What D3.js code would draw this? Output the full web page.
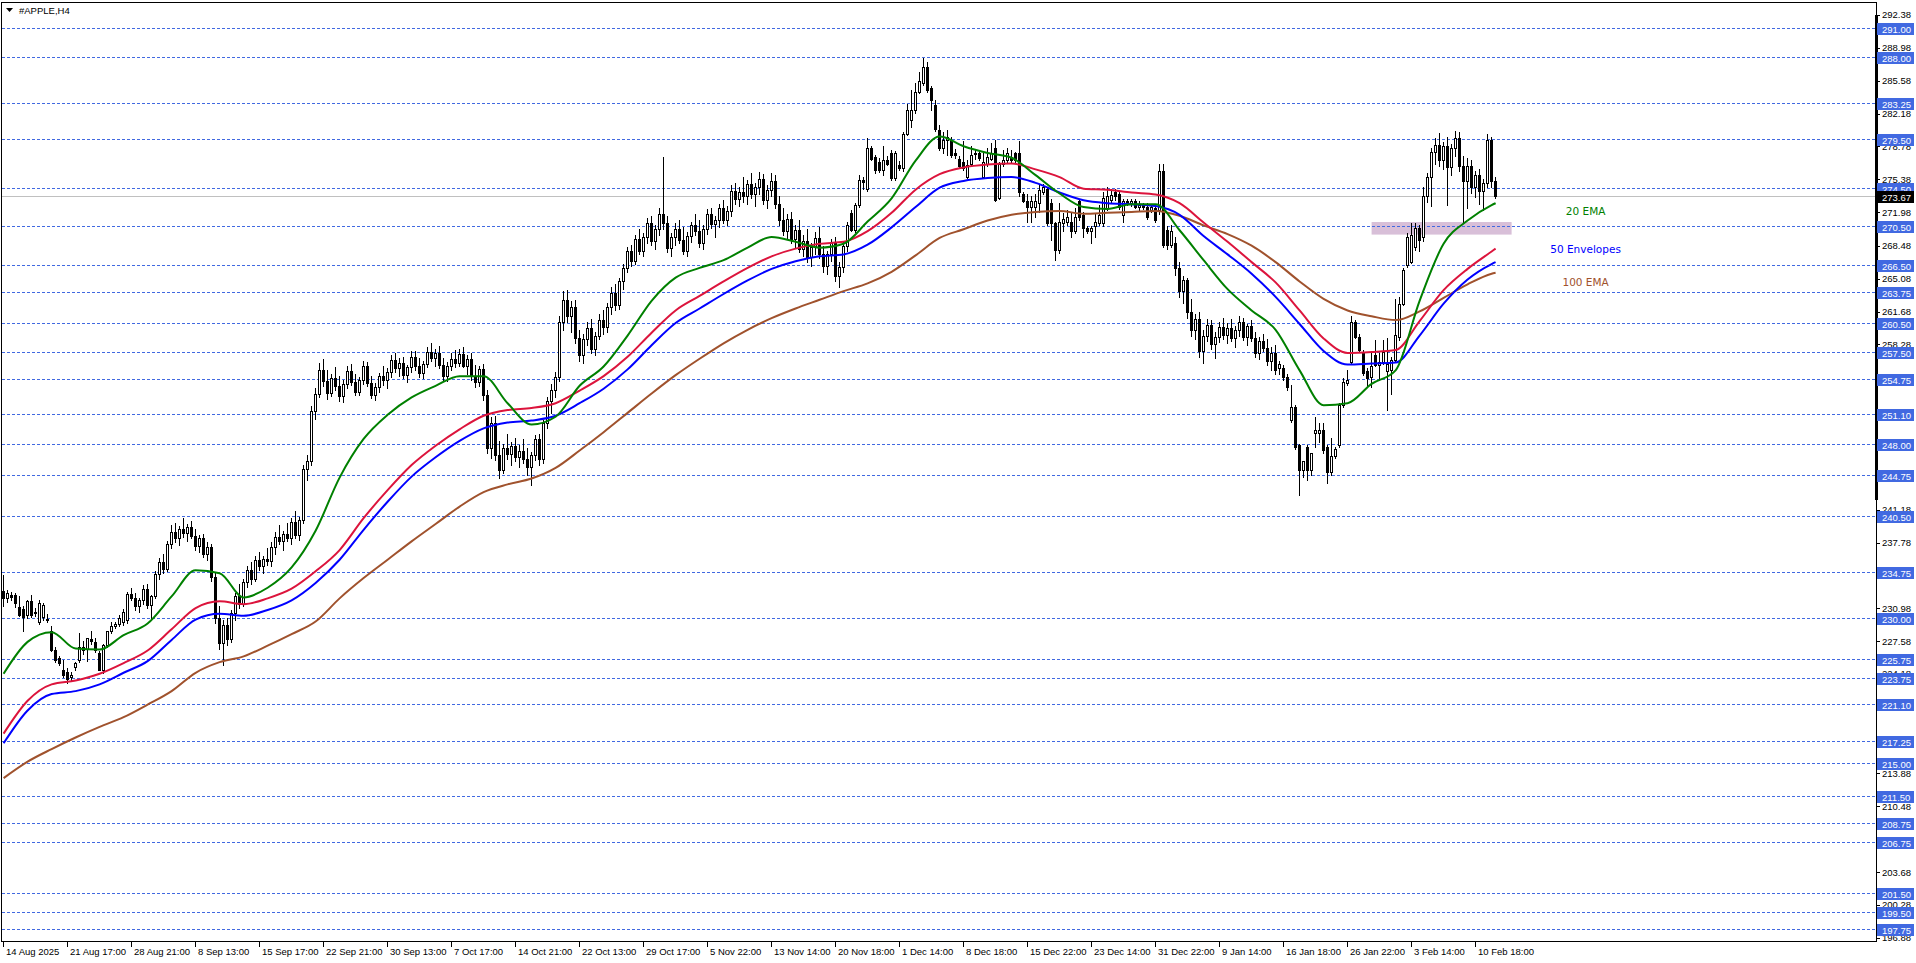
<!DOCTYPE html>
<html><head><meta charset="utf-8">
<script src="https://cdn.jsdelivr.net/npm/d3@7"></script>
<style>body{margin:0;background:#fff;overflow:hidden}svg{display:block}</style>
</head><body>
<svg id="chart" width="1916" height="963"></svg>
<script>
// ---------------- DATA ----------------
const title = "#APPLE,H4";
const openP = [
232.8,232.0,232.4,232.3,231.1,230.9,230.3,231.7,230.6,229.6,
230.1,229.9,228.6,226.7,225.8,224.6,224.4,223.9,224.9,225.6,
227.0,226.8,227.8,227.5,226.3,224.6,227.2,228.6,229.1,229.3,
229.6,229.8,232.5,232.0,231.2,231.8,233.0,231.3,232.2,234.5,
235.8,235.0,237.6,238.9,238.2,239.2,238.8,239.4,238.5,237.4,
238.2,236.6,237.3,234.2,230.0,227.4,229.2,227.8,230.5,232.2,
231.4,233.7,234.9,234.0,236.0,235.3,236.1,235.9,237.3,238.4,
237.9,238.7,238.2,239.9,238.6,240.1,245.4,246.2,251.4,253.2,
255.6,254.5,253.3,254.8,254.0,252.9,254.2,255.5,254.4,253.4,
254.6,256.0,254.3,253.0,253.9,255.0,254.6,255.4,256.7,255.8,
256.4,255.1,255.9,257.0,256.0,255.3,256.3,257.5,256.9,257.4,
256.2,255.0,256.1,256.8,256.4,257.3,256.1,256.8,255.0,254.4,
255.7,253.0,247.6,250.2,246.8,245.3,247.6,246.9,247.8,246.6,
247.3,246.4,245.6,246.8,248.5,246.4,250.1,252.4,253.6,254.9,
260.6,262.9,261.2,262.2,258.9,257.2,258.8,260.0,257.8,259.2,
260.8,260.1,262.2,263.6,262.4,264.8,266.2,267.9,266.9,269.2,
268.0,269.4,270.9,269.0,270.2,271.8,270.8,268.3,269.4,270.2,
269.1,268.0,269.5,270.6,270.0,268.8,270.2,271.8,270.7,271.2,
272.4,271.2,272.1,274.2,273.3,274.1,273.6,274.9,273.8,274.6,
275.4,273.2,274.3,275.2,272.8,271.2,270.0,271.3,269.2,270.1,
268.2,269.0,267.3,268.4,269.3,267.6,266.4,267.6,268.8,265.4,
266.3,268.5,271.9,270.1,272.7,275.3,274.4,278.6,277.7,277.2,
276.3,277.4,278.1,275.5,276.9,276.5,280.1,281.5,282.5,284.4,
285.3,287.0,284.8,283.1,280.5,278.6,279.4,279.4,278.1,277.5,
277.2,275.6,277.0,278.0,278.1,275.6,277.0,277.5,278.6,273.4,
277.0,277.4,277.7,278.1,278.1,273.9,273.1,272.5,272.5,272.9,
274.1,274.4,272.9,270.8,268.1,270.8,271.0,271.0,270.0,273.1,
271.7,270.3,270.0,270.5,270.8,270.8,272.4,273.2,274.1,273.9,
271.7,273.1,272.9,273.1,272.5,272.7,272.5,272.2,272.4,272.2,
276.2,270.1,268.6,268.8,266.2,263.8,264.9,261.6,259.8,260.9,
257.6,259.2,260.3,258.3,259.1,260.1,259.3,260.0,258.9,259.8,
260.6,259.0,260.2,258.9,257.4,258.6,257.9,256.6,257.4,255.8,
255.8,254.9,250.5,251.8,247.9,245.3,247.7,245.3,249.1,249.1,
249.4,247.7,245.1,246.7,247.9,252.0,254.3,256.5,260.6,259.1,
257.5,255.5,254.9,257.2,256.2,256.5,255.5,255.6,256.7,259.1,
262.5,266.5,266.8,268.4,270.3,269.4,273.6,275.6,278.2,278.9,
277.4,278.8,276.6,278.6,279.6,276.8,275.2,276.8,274.6,275.8,
274.2,275.0,279.4,275.2];
const highP = [
234.4,232.9,232.7,232.6,232.2,231.2,231.8,232.3,231.0,231.8,
231.5,230.4,229.1,227.0,226.0,225.6,224.8,224.4,225.4,228.4,
227.6,227.9,228.6,227.9,226.6,227.3,228.6,229.6,229.6,230.3,
230.9,232.7,233.1,232.6,232.0,233.4,233.5,232.4,234.8,236.2,
236.6,237.9,239.6,239.8,239.5,240.3,239.7,240.0,239.2,238.6,
238.7,237.8,237.6,234.6,231.2,229.8,230.0,230.8,232.6,233.5,
234.0,235.4,235.8,236.4,236.8,236.4,237.2,237.8,238.9,239.6,
239.0,239.8,240.3,241.0,240.4,245.8,246.8,251.9,253.8,256.4,
256.8,255.6,255.2,255.9,255.0,254.6,256.0,256.3,255.2,254.9,
256.6,256.5,255.0,254.3,255.3,256.1,255.8,257.2,257.4,256.9,
257.0,256.2,257.6,257.6,256.9,256.6,258.0,258.4,257.8,258.1,
256.9,256.5,257.4,257.7,257.8,258.0,257.2,257.4,256.2,256.0,
256.3,253.6,250.8,250.9,248.3,248.0,249.0,248.2,248.6,247.9,
248.5,247.6,247.2,248.9,249.0,250.5,252.8,254.2,255.4,261.2,
263.8,263.9,262.8,262.9,259.8,259.4,260.6,260.9,259.6,261.4,
261.8,262.6,264.2,264.5,265.2,266.6,268.4,268.6,269.6,270.2,
269.8,271.4,271.6,270.6,272.4,277.7,271.6,269.8,270.8,271.2,
270.4,269.9,271.0,271.8,271.2,270.6,272.3,272.4,271.6,272.8,
273.2,272.6,274.8,275.0,274.6,275.6,275.3,276.0,275.0,276.1,
275.9,274.8,276.0,275.8,273.6,272.4,271.8,272.0,270.6,271.2,
269.6,270.2,268.8,269.9,270.4,268.5,268.0,269.2,269.4,266.8,
268.9,271.0,272.2,272.9,275.8,275.6,279.6,278.8,277.9,277.6,
278.8,277.8,278.4,278.3,277.3,280.3,283.2,284.6,285.3,286.5,
287.9,287.5,285.0,283.6,281.0,280.3,280.5,279.8,278.5,277.8,
279.3,277.4,278.8,278.4,278.3,278.1,278.6,279.1,279.4,277.2,
278.4,278.6,278.4,278.2,279.3,274.1,273.9,273.6,273.9,274.9,
274.9,274.6,273.3,271.0,272.9,271.9,272.2,271.9,272.4,273.2,
272.0,270.5,270.5,271.9,272.7,274.1,274.6,274.4,274.4,274.1,
273.3,273.3,273.3,273.3,273.1,272.9,272.9,272.8,272.5,277.0,
277.0,270.5,270.6,269.4,266.8,265.4,265.2,263.0,261.4,261.6,
259.8,260.9,260.8,259.6,260.6,261.0,260.5,260.9,260.2,261.2,
261.0,260.4,260.8,259.6,259.0,259.4,258.8,258.0,258.2,256.6,
256.2,255.2,254.1,252.0,248.0,246.2,247.9,247.0,250.8,250.1,
250.1,247.9,248.6,247.7,252.2,254.8,255.6,261.2,260.8,259.4,
257.7,255.8,257.5,258.7,257.4,258.7,258.9,257.0,263.0,263.2,
266.2,269.8,270.8,270.8,270.6,274.6,276.0,278.6,279.6,280.2,
279.2,279.8,279.0,280.4,280.3,277.8,277.6,277.4,276.2,276.4,
275.4,280.1,279.8,275.6];
const lowP = [
231.2,231.6,231.8,231.1,230.2,228.6,230.0,230.1,230.2,229.3,
229.8,229.6,226.6,225.4,225.1,223.9,223.2,223.6,224.6,225.4,
226.2,225.5,227.3,226.5,224.6,224.3,227.0,228.4,228.9,229.1,
229.2,229.5,231.8,230.8,230.6,231.4,231.0,229.8,232.0,234.0,
234.6,234.8,237.2,237.8,237.5,238.4,237.9,238.2,237.0,236.8,
236.3,236.0,233.8,229.5,226.8,225.1,227.2,227.5,229.8,231.0,
231.2,233.2,233.5,233.8,234.9,234.6,235.5,235.4,236.6,237.6,
237.0,237.9,237.6,238.2,238.0,239.8,244.2,245.8,250.6,252.8,
254.0,252.6,252.9,253.6,252.4,252.3,253.8,254.1,253.0,253.0,
254.2,254.0,252.7,252.5,253.4,254.1,253.8,254.9,255.4,255.0,
254.8,254.4,255.4,255.6,254.9,254.8,255.9,256.6,256.0,255.8,
254.6,254.5,255.6,255.9,256.0,255.9,255.2,254.6,253.9,254.0,
252.5,247.0,246.5,246.3,244.5,245.0,246.4,245.8,246.2,245.6,
246.0,244.8,243.7,246.3,245.8,246.0,249.6,251.2,252.8,254.5,
259.8,260.6,259.6,258.4,256.6,256.4,258.2,257.4,257.2,258.8,
259.4,259.6,261.4,261.8,262.0,264.0,265.8,266.4,266.6,267.6,
267.4,268.8,268.6,268.2,269.6,270.2,267.8,267.4,268.6,268.8,
267.6,267.4,268.9,269.6,268.4,268.2,269.7,270.3,269.4,270.4,
270.8,270.6,271.6,272.8,272.6,273.0,272.8,273.4,272.6,273.8,
272.8,272.4,273.6,272.4,270.6,269.6,269.2,268.8,268.4,267.8,
267.4,266.8,266.4,267.6,267.2,265.8,265.6,266.9,264.8,264.2,
265.8,268.0,270.0,269.9,272.5,274.4,274.2,277.4,276.0,276.1,
275.8,276.9,275.3,275.3,276.3,276.2,280.0,280.8,282.2,284.3,
285.1,284.4,282.5,280.4,278.4,278.1,277.9,277.7,277.6,276.5,
276.3,275.5,276.8,277.5,277.4,275.5,276.8,277.4,273.1,273.3,
276.7,277.2,277.2,277.2,273.6,273.0,271.0,271.0,271.5,272.0,
273.9,270.6,269.1,267.0,267.7,270.0,270.6,269.4,269.8,271.2,
269.4,269.8,268.8,269.4,270.6,270.5,272.2,273.0,273.2,272.3,
271.0,272.7,272.6,272.4,272.2,272.3,271.3,272.0,271.0,271.8,
268.4,268.2,268.4,265.5,263.2,262.6,261.0,259.2,258.8,257.0,
256.4,258.6,257.8,256.9,258.5,258.8,258.4,258.6,258.0,259.2,
258.7,258.2,258.6,257.0,256.8,257.6,256.2,255.6,255.2,255.2,
254.6,253.6,250.3,247.5,242.7,244.6,244.2,244.8,247.7,248.2,
247.0,243.9,244.8,246.5,247.7,251.8,254.1,256.3,258.9,257.5,
255.1,253.9,253.9,256.0,254.6,256.3,251.5,253.1,256.5,258.7,
262.4,266.3,266.7,268.1,267.9,269.0,273.0,272.6,277.0,276.8,
276.4,272.7,275.8,277.8,276.2,270.8,272.4,274.0,273.5,272.8,
272.2,274.6,274.6,273.4];
const closeP = [
232.0,232.6,232.1,231.5,230.3,230.1,231.7,230.3,230.5,231.5,
231.3,229.8,226.7,225.6,225.3,224.1,223.7,224.1,225.3,227.0,
226.7,227.9,227.6,226.7,224.6,227.2,228.6,229.1,229.3,230.0,
230.6,232.5,232.0,231.2,231.8,233.0,231.3,232.2,234.5,235.8,
235.0,237.6,238.9,238.2,239.2,238.8,239.4,238.5,237.4,238.2,
236.6,237.3,234.2,230.0,227.4,229.2,227.8,230.5,232.2,231.4,
233.7,234.9,234.0,236.0,235.3,236.1,235.9,237.3,238.4,237.9,
238.7,238.2,239.9,238.6,240.1,245.4,246.2,251.4,253.2,255.6,
254.5,253.3,254.8,254.0,252.9,254.2,255.5,254.4,253.4,254.6,
256.0,254.3,253.0,253.9,255.0,254.6,255.4,256.7,255.8,256.4,
255.1,255.9,257.0,256.0,255.3,256.3,257.5,256.9,257.4,256.2,
255.0,256.1,256.8,256.4,257.3,256.1,256.8,255.0,254.4,255.7,
253.0,247.6,250.2,246.8,245.3,247.6,246.9,247.8,246.6,247.3,
246.4,245.6,246.8,248.5,246.4,250.1,252.4,253.6,254.9,260.6,
262.9,261.2,262.2,258.9,257.2,258.8,260.0,257.8,259.2,260.8,
260.1,262.2,263.6,262.4,264.8,266.2,267.9,266.9,269.2,268.0,
269.4,270.9,269.0,270.2,271.8,270.8,268.3,269.4,270.2,269.1,
268.0,269.5,270.6,270.0,268.8,270.2,271.8,270.7,271.2,272.4,
271.2,272.1,274.2,273.3,274.1,273.6,274.9,273.8,274.6,275.4,
273.2,274.3,275.2,272.8,271.2,270.0,271.3,269.2,270.1,268.2,
269.0,267.3,268.4,269.3,267.6,266.4,267.6,268.8,265.4,266.3,
268.5,270.6,270.1,272.7,275.3,275.1,278.6,277.5,276.3,276.3,
277.4,277.0,275.5,278.1,276.5,280.1,282.5,282.5,284.4,285.5,
287.0,284.6,283.6,280.6,278.6,279.4,279.8,277.9,277.9,276.7,
276.5,276.9,277.9,278.1,277.6,277.2,277.7,278.1,273.2,277.0,
277.4,278.1,277.4,277.4,274.1,273.1,272.5,273.1,273.1,274.3,
274.6,270.8,270.8,268.1,271.0,271.3,271.5,270.0,271.5,271.5,
270.3,270.0,270.3,271.0,271.7,273.4,273.6,273.7,273.6,272.5,
273.1,272.9,273.1,272.5,272.7,272.5,271.5,272.5,271.2,276.2,
268.6,268.6,270.0,266.2,263.8,264.9,261.6,259.8,260.9,257.6,
259.2,260.3,258.3,259.1,260.1,259.3,260.0,258.9,259.8,260.6,
259.0,260.2,258.9,257.4,258.6,257.9,256.6,257.4,255.6,256.3,
254.9,253.9,251.8,247.7,245.3,246.2,245.3,247.0,249.4,249.4,
247.4,245.1,246.7,247.5,252.0,254.4,254.6,260.6,259.1,257.7,
255.3,254.8,256.0,256.2,256.5,257.5,256.3,256.7,259.3,262.5,
266.0,269.4,269.6,270.3,269.1,273.6,275.6,278.2,278.9,277.4,
278.8,276.6,278.6,279.6,276.8,275.2,276.8,274.6,275.8,274.2,
275.0,279.4,275.2,273.67];

// indicator values read at these bar numbers
const maBars = [0,6,12,18,24,30,36,42,48,54,60,66,72,78,84,90,96,102,108,114,120,126,132,138,144,150,156,162,168,174,180,186,192,198,204,210,216,222,228,234,240,246,252,258,264,270,276,282,288,294,300,306,312,318,324,330,336,342,348,354,360,366,372,373];
const ema20 = [224.2,227.5,228.5,226.8,226.7,228.2,229.4,232.2,234.9,234.6,232.1,233.1,235.2,239.0,244.5,248.5,251.0,252.8,254.0,255.0,255.0,252.2,250.0,250.8,254.0,256.0,259.2,262.8,265.2,266.2,267.0,268.3,269.4,268.9,268.3,268.7,271.0,273.4,277.3,279.8,278.8,278.1,277.6,275.8,273.9,272.5,272.3,272.8,272.8,270.1,267.0,264.0,261.8,259.8,255.6,252.0,252.2,254.2,255.6,262.8,268.7,271.1,272.7,272.9];
const envUpper = [218.0,221.4,223.1,223.5,224.2,225.3,226.6,228.8,231.0,231.7,231.4,232.0,233.0,234.8,237.0,240.3,243.2,245.8,247.8,249.5,250.9,251.5,251.7,252.2,253.5,255.0,257.0,259.5,261.8,263.3,264.8,266.2,267.4,268.2,268.7,268.9,270.0,271.9,274.3,275.9,276.6,276.9,277.0,276.4,275.6,274.4,274.3,274.0,273.8,272.9,270.9,268.9,266.8,264.7,261.8,258.9,257.4,257.5,257.7,260.7,263.9,266.1,267.9,268.2];
const envLower = [217.0,220.4,222.1,222.4,223.1,224.3,225.5,227.7,229.8,230.4,230.2,230.8,231.8,233.6,236.0,239.1,242.0,244.6,246.6,248.3,249.6,250.2,250.4,250.9,252.2,253.7,255.7,258.2,260.5,262.0,263.5,264.9,266.1,266.9,267.4,267.6,268.6,270.4,272.5,274.5,275.2,275.5,275.6,275.0,274.0,273.2,272.9,272.8,272.6,271.7,269.5,267.6,265.6,263.2,260.4,257.6,256.2,256.3,256.4,259.2,262.5,265.0,266.6,266.8];
const ema100 = [213.4,215.1,216.4,217.6,218.7,219.7,221.0,222.4,224.3,225.4,226.0,227.1,228.3,229.6,232.0,234.1,236.0,237.9,239.7,241.5,243.0,243.8,244.4,245.5,247.3,249.2,251.2,253.2,255.1,256.8,258.4,259.8,261.0,262.0,262.9,263.8,264.6,265.8,267.5,269.3,270.2,271.1,271.7,272.0,272.1,271.8,271.9,272.0,272.1,271.6,270.6,269.7,268.5,266.8,264.8,263.0,261.8,261.2,260.8,261.7,263.1,264.5,265.6,265.7];

const levelLines = [291.00,288.00,283.25,279.50,274.50,270.50,266.50,263.75,260.50,257.50,254.75,251.10,248.00,244.75,240.50,234.75,230.00,225.75,223.75,221.10,217.25,215.00,211.50,208.75,206.75,201.50,199.50,197.75];
// price-scale values that remain visible beside the level labels
const scaleTicks = [292.38,288.98,285.58,282.18,278.78,275.38,271.98,268.48,265.08,261.68,258.28,241.18,237.78,234.38,230.98,227.58,224.18,220.78,213.88,210.48,203.68,200.28,196.88];
const lastPrice = 273.67;
const dateLabels = ["14 Aug 2025","21 Aug 17:00","28 Aug 21:00","8 Sep 13:00","15 Sep 17:00","22 Sep 21:00","30 Sep 13:00","7 Oct 17:00","14 Oct 21:00","22 Oct 13:00","29 Oct 17:00","5 Nov 22:00","13 Nov 14:00","20 Nov 18:00","1 Dec 14:00","8 Dec 18:00","15 Dec 22:00","23 Dec 14:00","31 Dec 22:00","9 Jan 14:00","16 Jan 18:00","26 Jan 22:00","3 Feb 14:00","10 Feb 18:00"];
const dateLabelBars = [0,16,32,48,64,80,96,112,128,144,160,176,192,208,224,240,256,272,288,304,320,336,352,368];
const zoneBars = [342, 377];
const zonePrices = [269.65, 270.95];
const legendItems = [
  {label:"20 EMA", price:272.1, color:"#008000"},
  {label:"50 Envelopes", price:268.2, color:"#0000FF"},
  {label:"100 EMA", price:264.7, color:"#A0522D"}];
const legendBar = 395.5;

// ---------------- LAYOUT ----------------
const svg = d3.select("#chart");
const plotL = 1.5, plotT = 2.5, plotR = 1876.5, plotB = 941.5;
const x = d3.scaleLinear().domain([0, 373]).range([3.6, 1495.6]);
const y = d3.scaleLinear().domain([197.75, 291]).range([929.3, 28.3]);
const AX = "'Liberation Sans', Arial, sans-serif";
const col = i => Math.floor(x(i));
const py = v => Math.round(y(v));

svg.append("rect").attr("width",1916).attr("height",963).attr("fill","#fff");

// zone rectangle
svg.append("rect")
  .attr("x", x(zoneBars[0])).attr("width", x(zoneBars[1]) - x(zoneBars[0]))
  .attr("y", y(zonePrices[1])).attr("height", y(zonePrices[0]) - y(zonePrices[1]))
  .attr("fill", "#D8BFD8");

// level lines
svg.append("g").attr("shape-rendering","crispEdges").selectAll("line").data(levelLines).join("line")
  .attr("x1", plotL).attr("x2", plotR)
  .attr("y1", d => py(d) + 0.5).attr("y2", d => py(d) + 0.5)
  .attr("stroke", "#4169E1").attr("stroke-width", 1).attr("stroke-dasharray", "3,2");

// last price line
svg.append("line").attr("shape-rendering","crispEdges")
  .attr("x1", plotL).attr("x2", plotR)
  .attr("y1", py(lastPrice) + 0.5).attr("y2", py(lastPrice) + 0.5)
  .attr("stroke", "#C0C0C0");

// candles
const idx = d3.range(openP.length);
const cg = svg.append("g").attr("shape-rendering","crispEdges");
cg.selectAll("line.w").data(idx).join("line").attr("class","w")
  .attr("x1", i => col(i) + 0.5).attr("x2", i => col(i) + 0.5)
  .attr("y1", i => py(highP[i])).attr("y2", i => py(lowP[i]) + 1)
  .attr("stroke", "#000");
cg.selectAll("rect.b").data(idx).join("rect").attr("class","b")
  .each(function(i){
    const o = openP[i], c = closeP[i];
    const top = py(Math.max(o,c)), bot = py(Math.min(o,c));
    const s = d3.select(this);
    if (c >= o) {
      s.attr("x", col(i) - 0.5).attr("y", top + 0.5).attr("width", 2).attr("height", Math.max(bot - top, 0))
       .attr("fill", "#fff").attr("stroke", "#000");
    } else {
      s.attr("x", col(i) - 1).attr("y", top).attr("width", 3).attr("height", Math.max(bot - top, 0) + 1)
       .attr("fill", "#000");
    }
  });

// indicator lines
const mk = arr => d3.line().x((d,k) => x(maBars[k])).y(d => y(d)).curve(d3.curveMonotoneX)(arr);
[[ema100,"#A0522D"],[envLower,"#0000FF"],[envUpper,"#DC143C"],[ema20,"#008000"]].forEach(([arr,c]) => {
  svg.append("path").attr("d", mk(arr)).attr("fill","none").attr("stroke", c).attr("stroke-width", 2).attr("stroke-linejoin","round");
});

// legend texts
svg.append("g").selectAll("text").data(legendItems).join("text")
  .attr("x", x(legendBar)).attr("y", d => y(d.price) + 4).attr("text-anchor","middle")
  .attr("font-family","'DejaVu Sans', Verdana, sans-serif").attr("font-size", 10.5)
  .attr("fill", d => d.color).text(d => d.label);

// frame
const fg = svg.append("g").attr("shape-rendering","crispEdges").attr("stroke","#000").attr("fill","none");
fg.append("rect").attr("x", plotL).attr("y", plotT).attr("width", plotR - plotL).attr("height", plotB - plotT);
svg.append("rect").attr("x", 1875).attr("y", 15).attr("width", 3).attr("height", 485).attr("fill","#000");

// right scale ticks
const rg = svg.append("g").attr("font-family", AX).attr("font-size", 9.5);
rg.selectAll("line").data(scaleTicks).join("line").attr("shape-rendering","crispEdges")
  .attr("x1", 1877).attr("x2", 1880).attr("y1", d => py(d) + 0.5).attr("y2", d => py(d) + 0.5).attr("stroke","#000");
rg.selectAll("text").data(scaleTicks).join("text")
  .attr("x", 1882).attr("y", d => y(d) + 3.5).attr("fill","#000").text(d => d.toFixed(2));

// blue level labels
const lg = svg.append("g").attr("font-family", AX).attr("font-size", 9.5);
lg.selectAll("rect").data(levelLines).join("rect").attr("shape-rendering","crispEdges")
  .attr("x", 1877).attr("y", d => py(d) - 5).attr("width", 37).attr("height", 12).attr("fill", "#4169E1");
lg.selectAll("text").data(levelLines).join("text")
  .attr("x", 1882).attr("y", d => py(d) + 4.5).attr("fill","#fff").text(d => d.toFixed(2));

// last price label
svg.append("rect").attr("x", 1877).attr("y", py(lastPrice) - 5).attr("width", 37).attr("height", 12).attr("fill","#000");
svg.append("text").attr("x", 1882).attr("y", py(lastPrice) + 4.5).attr("fill","#fff")
  .attr("font-family", AX).attr("font-size", 9.5).text(lastPrice.toFixed(2));

// date axis
const dg = svg.append("g").attr("font-family", AX).attr("font-size", 9.5);
dg.selectAll("line").data(dateLabelBars).join("line").attr("shape-rendering","crispEdges")
  .attr("x1", d => col(d) + 0.5).attr("x2", d => col(d) + 0.5).attr("y1", plotB).attr("y2", plotB + 5).attr("stroke","#000");
dg.selectAll("text").data(dateLabels).join("text")
  .attr("x", (d,k) => col(dateLabelBars[k]) + 3).attr("y", 955).attr("fill","#000").text(d => d);

// title
svg.append("path").attr("d","M6,8 L13,8 L9.5,12 Z").attr("fill","#000");
svg.append("text").attr("x", 19).attr("y", 13.5).attr("font-family", AX).attr("font-size", 9.5).attr("fill","#000").text(title);
</script>
</body></html>
